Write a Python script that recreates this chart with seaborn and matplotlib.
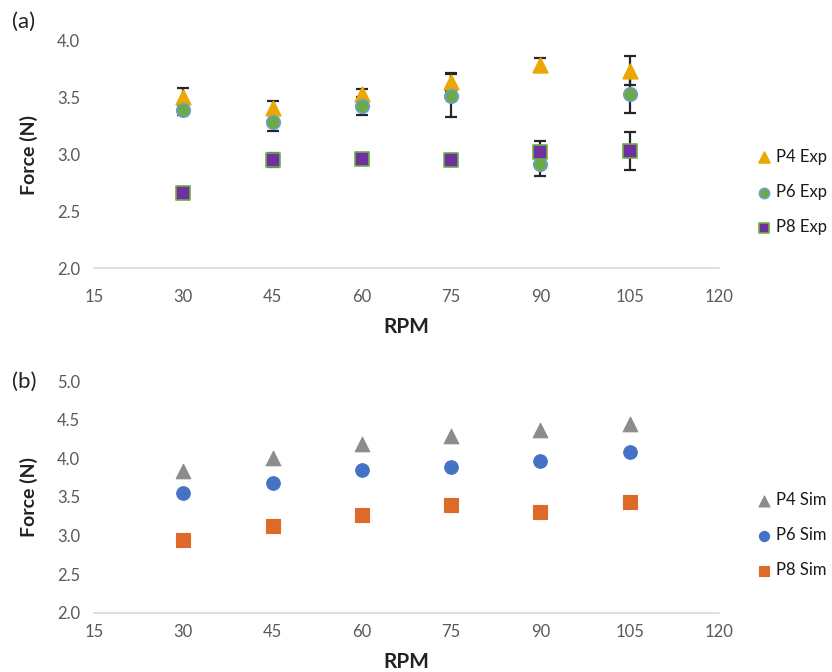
import numpy as np
import pandas as pd
import matplotlib
matplotlib.use("Agg")
import matplotlib.pyplot as plt
import seaborn as sns

# data
rpm = [30, 45, 60, 75, 90, 105]

p4_exp = [3.51, 3.41, 3.53, 3.64, 3.79, 3.74]
p4_exp_err = [0.08, 0.06, 0.05, 0.08, 0.06, 0.13]
p6_exp = [3.39, 3.29, 3.43, 3.52, 2.92, 3.53]
p6_exp_err = [0.04, 0.08, 0.08, 0.19, 0.11, 0.16]
p8_exp = [2.66, 2.95, 2.96, 2.95, 3.02, 3.03]
p8_exp_err = [0.03, 0.06, 0.03, 0.03, 0.10, 0.17]

p4_sim = [3.83, 4.00, 4.18, 4.29, 4.36, 4.44]
p6_sim = [3.55, 3.68, 3.85, 3.89, 3.97, 4.08]
p8_sim = [2.94, 3.13, 3.26, 3.39, 3.31, 3.43]

sns.set_theme(style="white")
plt.rcParams["font.family"] = ["Lato", "DejaVu Sans"]

fig = plt.figure(figsize=(8.32, 6.72), dpi=100)
ax_a = fig.add_axes([0.113, 0.601, 0.751, 0.338])
ax_b = fig.add_axes([0.113, 0.088, 0.751, 0.345])

tick_col = "#595959"

def style_axis(ax, ylim, yticks, xpad):
    ax.set_xlim(15, 120)
    ax.set_xticks(range(15, 121, 15))
    ax.set_ylim(*ylim)
    ax.set_yticks(yticks)
    ax.set_yticklabels([f"{v:.1f}" for v in yticks])
    for s in ["top", "right", "left"]:
        ax.spines[s].set_visible(False)
    ax.spines["bottom"].set_color("#d9d9d9")
    ax.spines["bottom"].set_linewidth(1.2)
    ax.tick_params(axis="both", colors=tick_col, labelsize=12, length=0)
    ax.tick_params(axis="x", pad=xpad)
    ax.tick_params(axis="y", pad=10)
    ax.set_xlabel("RPM", fontsize=15, fontweight="bold", color="#222222", labelpad=9)
    ax.set_ylabel("Force (N)", fontsize=14, fontweight="bold", color="#222222", labelpad=14)

# (a) experiment
exp_series = [
    ("P4 Exp", p4_exp, p4_exp_err, "^", "#EBA800", "#EBA800", 110),
    ("P6 Exp", p6_exp, p6_exp_err, "o", "#6AAB45", "#6E9FD3", 95),
    ("P8 Exp", p8_exp, p8_exp_err, "s", "#7030A0", "#70AD47", 90),
]
for name, vals, err, mk, fc, ec, size in exp_series:
    ax_a.errorbar(rpm, vals, yerr=err, fmt="none", ecolor="#262626",
                  elinewidth=1.6, capsize=4, capthick=1.6, zorder=2)
for name, vals, err, mk, fc, ec, size in exp_series:
    sns.scatterplot(x=rpm, y=vals, ax=ax_a, marker=mk, color=fc, edgecolor=ec,
                    linewidth=1.2, s=size, label=name, zorder=3)
style_axis(ax_a, (2.0, 4.0), [2.0, 2.5, 3.0, 3.5, 4.0], 15)

# (b) simulation
sim_series = [
    ("P4 Sim", p4_sim, "^", "#8C8C8C", 110),
    ("P6 Sim", p6_sim, "o", "#4472C4", 95),
    ("P8 Sim", p8_sim, "s", "#DE6A2A", 90),
]
for name, vals, mk, fc, size in sim_series:
    sns.scatterplot(x=rpm, y=vals, ax=ax_b, marker=mk, color=fc, edgecolor=fc,
                    linewidth=0.8, s=size, label=name, zorder=3)
style_axis(ax_b, (2.0, 5.0), [2.0, 2.5, 3.0, 3.5, 4.0, 4.5, 5.0], 8)

for ax in [ax_a, ax_b]:
    leg = ax.legend(loc="center left", bbox_to_anchor=(1.0, 0.335), frameon=False,
                    fontsize=12, handletextpad=0.2, labelspacing=1.15,
                    markerscale=0.75, borderaxespad=1.8, handlelength=1.0)
    for t in leg.get_texts():
        t.set_color("#1a1a1a")

fig.text(0.014, 0.958, "(a)", fontsize=16, color="#222222")
fig.text(0.014, 0.423, "(b)", fontsize=16, color="#222222")

fig.savefig("out.png", dpi=100)
